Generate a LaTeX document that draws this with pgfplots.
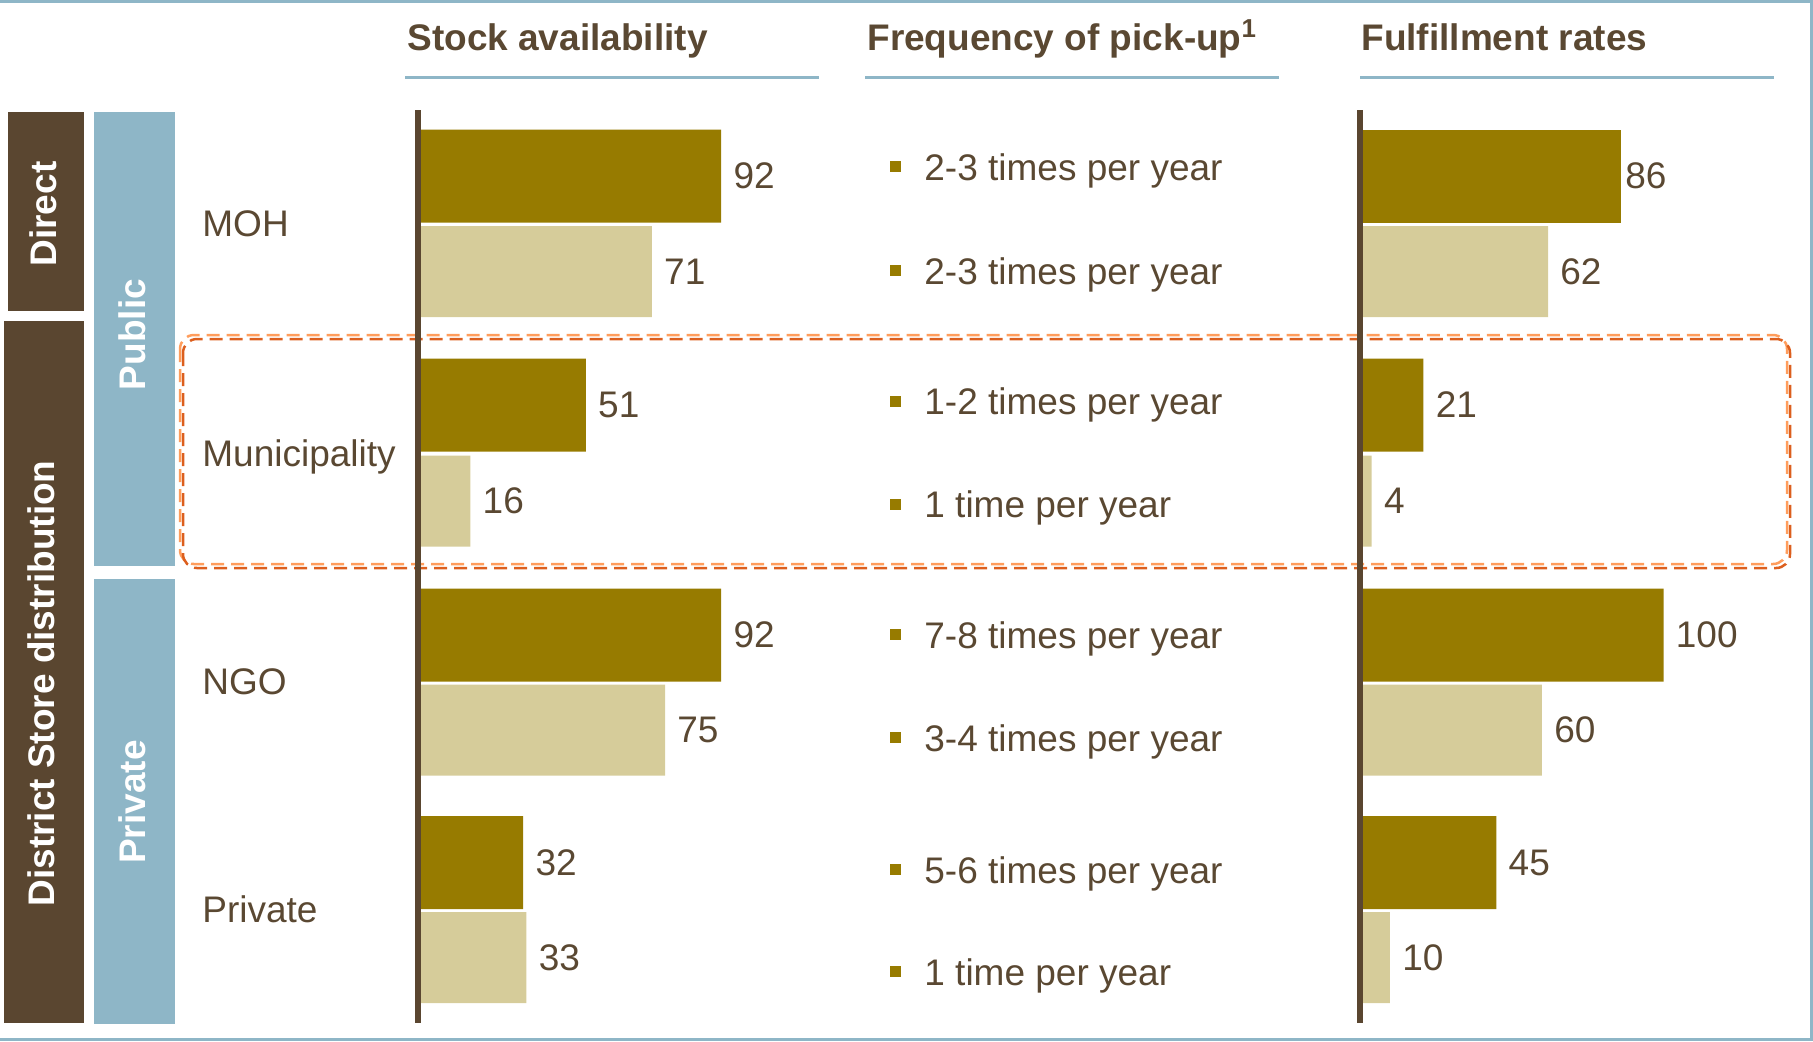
\documentclass[border=0pt]{standalone}
\usepackage{fontspec}
\setmainfont{Liberation Sans}
\usepackage{pgfplots}
\pgfplotsset{compat=1.18}
\definecolor{brownc}{HTML}{5A4630}
\definecolor{txt}{HTML}{5A4832}
\definecolor{gold}{HTML}{977B00}
\definecolor{lightgold}{HTML}{D6CC9A}
\definecolor{bluec}{HTML}{8EB6C7}
\definecolor{ordark}{HTML}{DC5F1E}
\definecolor{orlight}{HTML}{FF9D5C}
\newcommand{\fs}{\fontsize{18.5pt}{22pt}\selectfont}
\newcommand{\bfs}{\fontsize{18.5pt}{22pt}\selectfont\bfseries}
\pgfplotsset{
  panel/.style={scale only axis, height=456.5pt, ymin=110, ymax=1023, y dir=reverse,
    xmin=0, xmax=100, axis x line=none, axis y line=left, axis line style={-},
    y axis line style={draw=brownc, line width=3pt}, ytick=\empty, xtick=\empty,
    axis on top, clip=false, /pgf/number format/assume math mode=true,
    point meta=x,
    nodes near coords, nodes near coords style={anchor=west, inner sep=0pt, font=\fs, text=txt}},
  darkbar/.style={xbar, bar shift=0pt, bar width=46.5pt, draw=none, fill=gold, point meta=x, nodes near coords style={xshift=6pt}},
  lightbar/.style={xbar, bar shift=0pt, bar width=45.5pt, draw=none, fill=lightgold, point meta=x, nodes near coords style={xshift=6pt}},
}
\begin{document}
\begin{tikzpicture}
\useasboundingbox (0,0) rectangle (906.5pt,-520.5pt);
\begin{scope}[x=0.5pt,y=-0.5pt]
  % frame
  \draw[bluec, line width=1.65pt] (0,1.65) -- (1813,1.65);
  \draw[bluec, line width=1.5pt] (1811.5,0) -- (1811.5,1041);
  \draw[bluec, line width=1.5pt] (0,1039.5) -- (1813,1039.5);
  % side boxes
  \fill[brownc] (8,112) rectangle (84,311);
  \fill[brownc] (4,321) rectangle (84,1023);
  \fill[bluec] (94,112) rectangle (175,566);
  \fill[bluec] (94,579) rectangle (175,1024);
  \node[rotate=90, text=white, font=\bfs, inner sep=0pt] at (43.5,214) {Direct};
  \node[rotate=90, text=white, font=\bfs, inner sep=0pt] at (41,683.5) {District Store distribution};
  \node[rotate=90, text=white, font=\bfs, inner sep=0pt] at (132.5,334.5) {Public};
  \node[rotate=90, text=white, font=\bfs, inner sep=0pt] at (132.5,802) {Private};
  % row labels
  \foreach \b/\t in {236.7/MOH, 466.7/Municipality, 694.3/NGO, 922.7/Private}
    \node[anchor=base west, inner sep=0pt, font=\fs, text=txt] at (202,\b) {\t};
  % headers
  \node[anchor=base west, inner sep=0pt, font=\bfs, text=txt] at (407,50) {Stock availability};
  \node[anchor=base west, inner sep=0pt, font=\bfs, text=txt] at (867,50) {Frequency of pick-up\textsuperscript{1}};
  \node[anchor=base west, inner sep=0pt, font=\bfs, text=txt] at (1361,50) {Fulfillment rates};
  \draw[bluec, line width=1.25pt] (405,77.3) -- (819,77.3);
  \draw[bluec, line width=1.25pt] (865,77.3) -- (1279,77.3);
  \draw[bluec, line width=1.25pt] (1360,77.3) -- (1774,77.3);
  % frequency column
  \foreach \b/\t in {180/2-3 times per year, 284/2-3 times per year, 414.5/1-2 times per year,
      517.5/1 time per year, 648/7-8 times per year, 751/3-4 times per year,
      883/5-6 times per year, 985/1 time per year}{
    \fill[gold] (889.5,\b-19) rectangle (900.5,\b-8);
    \node[anchor=base west, inner sep=0pt, font=\fs, text=txt] at (924,\b) {\t};
  }
  % highlight box
  \draw[orlight, line width=1.25pt, dash pattern=on 6.5pt off 3.5pt, rounded corners=7pt] (180,335) rectangle (1787,564);
  \draw[ordark, line width=1.25pt, dash pattern=on 6.5pt off 3.5pt, rounded corners=7pt] (183,339) rectangle (1790,568);
\end{scope}
% Stock availability
\begin{axis}[panel, at={(208.75pt,-55pt)}, anchor=north west, width=165pt]
  \addplot[darkbar] coordinates {(92,176) (51,405) (92,635) (32,862.5)};
  \addplot[lightbar] coordinates {(71,271.5) (16,501) (75,730) (33,957.5)};
\end{axis}
% Fulfillment rates
\begin{axis}[panel, at={(679.75pt,-55pt)}, anchor=north west, width=152pt]
  \addplot[xbar, bar shift=0pt, bar width=46.5pt, draw=none, fill=gold, point meta=x, nodes near coords style={xshift=2pt}] coordinates {(86,176)};
  \addplot[darkbar] coordinates {(21,405) (100,635) (45,862.5)};
  \addplot[lightbar] coordinates {(62,271.5) (4,501) (60,730) (10,957.5)};
\end{axis}
\end{tikzpicture}
\end{document}
